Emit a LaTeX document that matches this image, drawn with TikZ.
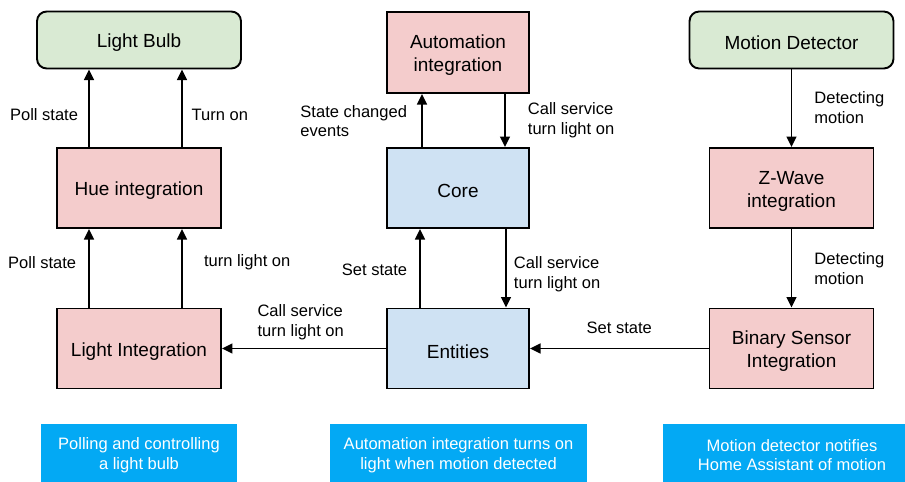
\documentclass[tikz,border=0pt]{standalone}
\usepackage{fontspec}
\setmainfont{Liberation Sans}
\usetikzlibrary{arrows.meta}
\definecolor{devgreen}{HTML}{D9EAD3}
\definecolor{intpink}{HTML}{F4CCCC}
\definecolor{coreblue}{HTML}{CFE2F3}
\definecolor{noteblue}{HTML}{03A9F4}
\begin{document}
\begin{tikzpicture}[x=0.02cm, y=-0.02cm, >={Triangle[length=6pt,width=5.6pt]}, line width=1.1pt,
    box/.style={draw, fill=intpink, minimum width=3.28cm, minimum height=1.6cm, align=center, font=\fontsize{10.8}{13}\selectfont,
      execute at begin node={\rule{0pt}{11.3pt}}},
    twoline/.style={execute at begin node={\rule{0pt}{24.1pt}}},
    dev/.style={box, fill=devgreen, rounded corners=5.5pt, minimum width=4.08cm, minimum height=1.14cm},
    lbl/.style={font=\fontsize{9.4}{11.3}\selectfont, align=left, inner sep=0pt},
    note/.style={fill=noteblue, text=white, minimum height=1.16cm, align=center, font=\fontsize{9.4}{11.3}\selectfont,
      execute at begin node={\rule{0pt}{20.5pt}}}]
    \useasboundingbox (0,0) rectangle (905,481);
    % left column
    \node[dev] (bulb) at (139,40) {Light Bulb};
    \node[box] (hue) at (139,188) {Hue integration};
    \node[box] (light) at (139,348.5) {Light Integration};
    % middle column
    \node[box, twoline, minimum width=2.84cm, minimum height=1.62cm] (auto) at (458,52.5) {Automation\\integration};
    \node[box, fill=coreblue, minimum width=2.84cm] (core) at (458,188) {Core};
    \node[box, fill=coreblue, minimum width=2.84cm] (ent) at (458,348.5) {Entities};
    % right column
    \node[dev] (motion) at (791.5,40) {Motion Detector};
    \node[box, twoline] (zwave) at (791.5,188) {Z-Wave\\integration};
    \node[box, twoline] (binary) at (791.5,348.5) {Binary Sensor\\Integration};

    \draw[->]([xshift=-1cm]hue.north)--node[lbl, pos=.42, left=5.7pt]{Poll state}([xshift=-1cm]bulb.south);
    \draw[->]([xshift=.86cm]hue.north)--node[lbl, pos=.42, right=5pt]{Turn on}([xshift=.86cm]bulb.south);
    \draw[->]([xshift=-1cm]light.north)--node[lbl, pos=.575, left=6.8pt]{Poll state}([xshift=-1cm]hue.south);
    \draw[->]([xshift=.86cm]light.north)--node[lbl, pos=.575, right=12pt]{turn light on}([xshift=.86cm]hue.south);

    \draw[->]([xshift=-.72cm]core.north)--node[lbl, pos=.49, left=8pt]{State changed\\events}([xshift=-.72cm]auto.south);
    \draw[->]([xshift=.94cm]auto.south)--node[lbl, pos=.49, right=12.5pt]{Call service\\turn light on}([xshift=.94cm]core.north);
    \draw[->]([xshift=-.76cm]ent.north)--node[lbl, pos=.475, left=6.8pt]{Set state}([xshift=-.76cm]core.south);
    \draw[->]([xshift=.96cm]core.south)--node[lbl, pos=.575, right=4pt]{Call service\\turn light on}([xshift=.96cm]ent.north);

    \draw[->](motion)--node[lbl, pos=.49, right=12.5pt]{Detecting\\motion}(zwave);
    \draw[->](zwave)--node[lbl, pos=.5, right=12.5pt]{Detecting\\motion}(binary);
    \draw[->](binary)--node[lbl, pos=.5, above=8pt]{Set state}(ent);
    \draw[->](ent)--node[lbl, pos=.52, above=4.5pt]{Call service\\turn light on}(light);

    % notes
    \node[note, minimum width=3.92cm] (n1) at (139,453) {Polling and controlling\\a light bulb};
    \node[note, minimum width=5.14cm] (n2) at (458.5,453) {Automation integration turns on\\light when motion detected};
    \node[note, minimum width=5.16cm] (n3) at (792,453) {Motion detector notifies\\Home Assistant of motion};
\end{tikzpicture}
\end{document}
